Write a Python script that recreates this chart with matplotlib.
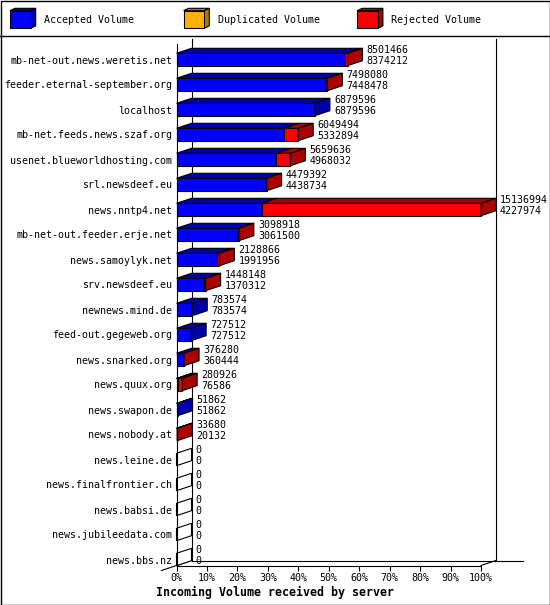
import matplotlib
matplotlib.use("Agg")
import matplotlib.pyplot as plt
from matplotlib.patches import Polygon, Rectangle
from matplotlib.lines import Line2D
import numpy as np

# ---------------- data ----------------
hosts = [
    "mb-net-out.news.weretis.net", "feeder.eternal-september.org", "localhost",
    "mb-net.feeds.news.szaf.org", "usenet.blueworldhosting.com", "srl.newsdeef.eu",
    "news.nntp4.net", "mb-net-out.feeder.erje.net", "news.samoylyk.net",
    "srv.newsdeef.eu", "newnews.mind.de", "feed-out.gegeweb.org",
    "news.snarked.org", "news.quux.org", "news.swapon.de", "news.nobody.at",
    "news.leine.de", "news.finalfrontier.ch", "news.babsi.de",
    "news.jubileedata.com", "news.bbs.nz",
]
total_volume = [8501466, 7498080, 6879596, 6049494, 5659636, 4479392, 15136994,
                3098918, 2128866, 1448148, 783574, 727512, 376280, 280926,
                51862, 33680, 0, 0, 0, 0, 0]
accepted_volume = [8374212, 7448478, 6879596, 5332894, 4968032, 4438734, 4227974,
                   3061500, 1991956, 1370312, 783574, 727512, 360444, 76586,
                   51862, 20132, 0, 0, 0, 0, 0]
duplicated_volume = [0] * 21
legend_labels = ["Accepted Volume", "Duplicated Volume", "Rejected Volume"]
xtick_values = list(range(0, 101, 10))
xlabel = "Incoming Volume received by server"

front_colors = ["#0000FF", "#FFB000", "#FF0000"]
side_colors = ["#0000AA", "#B07800", "#AA0000"]

W, H = 550, 605
MONO = "DejaVu Sans Mono"
FS = 7.2
LW = 0.8

fig = plt.figure(figsize=(W / 100, H / 100), dpi=100)
fig.patch.set_facecolor("white")

# front plane of the 3D plot
top_px, bot_px, left_px, right_px = 44.0, 565.5, 176.5, 481.0
ax = fig.add_axes([left_px / W, 1 - bot_px / H, (right_px - left_px) / W, (bot_px - top_px) / H])
ax.set_xlim(0, 100)
y_top = (top_px - 59.5) / 25.0
y_bot = (bot_px - 59.5) / 25.0
ax.set_ylim(y_bot, y_top)
ax.set_facecolor("none")
for s in ["top", "right"]:
    ax.spines[s].set_visible(False)
for s in ["left", "bottom"]:
    ax.spines[s].set_linewidth(LW)
    ax.spines[s].set_zorder(5)

# depth offset (15 px right, 5 px up) in data units
p0 = ax.transData.transform((0, 0))
p1 = ax.transData.inverted().transform(p0 + np.array([15.0, 5.0]))
DX, DY = p1[0], p1[1]
ext = ax.transData.inverted().transform(p0 + np.array([27.0, 0.0]))[0]

# back wall and floor
kw = dict(color="black", lw=LW, clip_on=False, zorder=1)
ax.add_line(Line2D([DX, DX], [y_top + DY, y_bot + DY], **kw))
ax.add_line(Line2D([100 + DX, 100 + DX], [y_top + DY, y_bot + DY], **kw))
ax.add_line(Line2D([DX, 100 + DX + ext], [y_bot + DY, y_bot + DY], **kw))
ax.add_line(Line2D([-DX, DX], [y_bot - DY, y_bot + DY], **kw))
ax.add_line(Line2D([100, 100 + DX], [y_bot, y_bot + DY], **kw))

vmax = max(total_volume)
hh = 0.248
for i in range(len(hosts)):
    acc = accepted_volume[i]
    dup = duplicated_volume[i]
    rej = total_volume[i] - acc - dup
    vals = [acc, dup, rej]
    x0 = 0.0
    last = None
    for k, v in enumerate(vals):
        if v <= 0:
            continue
        w = v / vmax * 100
        x1 = x0 + w
        ax.add_patch(Rectangle((x0, i - hh), w, 2 * hh, facecolor=front_colors[k],
                               edgecolor="black", lw=LW, clip_on=False, zorder=3))
        ax.add_patch(Polygon([(x0, i - hh), (x1, i - hh), (x1 + DX, i - hh + DY), (x0 + DX, i - hh + DY)],
                             closed=True, facecolor=side_colors[k], edgecolor="black",
                             lw=LW, clip_on=False, zorder=3))
        x0 = x1
        last = k
    fc = side_colors[last] if last is not None else "white"
    ax.add_patch(Polygon([(x0, i - hh), (x0 + DX, i - hh + DY), (x0 + DX, i + hh + DY), (x0, i + hh)],
                         closed=True, facecolor=fc, edgecolor="black", lw=LW,
                         clip_on=False, zorder=3))
    ax.annotate(str(total_volume[i]), xy=(x0, i), xytext=(19 * 0.72, 6.6),
                textcoords="offset points", ha="left", va="center",
                fontsize=FS, family=MONO, annotation_clip=False)
    ax.annotate(str(accepted_volume[i]), xy=(x0, i), xytext=(19 * 0.72, -1.1),
                textcoords="offset points", ha="left", va="center",
                fontsize=FS, family=MONO, annotation_clip=False)

ax.set_xticks(xtick_values)
ax.set_xticklabels([f"{t}%" for t in xtick_values], family=MONO, fontsize=FS)
ax.set_yticks(range(len(hosts)))
ax.set_yticklabels(hosts, family=MONO, fontsize=FS)
ax.tick_params(axis="x", length=3.6, width=LW, pad=1.5)
ax.tick_params(axis="y", length=0, pad=3.2)

fig.text(0.5, 1 - 592 / H, xlabel, ha="center", va="center", fontsize=8.4,
         family=MONO, weight="bold")

# legend strip
lax = fig.add_axes([0, 1 - 35.5 / H, 1, 35.5 / H])
lax.set_xlim(0, W)
lax.set_ylim(35.5, 0)
lax.axis("off")
for k, lab in enumerate(legend_labels):
    bx = 10 + k * 173.6
    x0, x1, y0, y1 = bx, bx + 20.7, 10.7, 28.3
    ddx, ddy = 5.0, -2.4
    lax.add_patch(Polygon([(x0, y0), (x1, y0), (x1 + ddx, y0 + ddy), (x0 + ddx, y0 + ddy)],
                          facecolor=side_colors[k], edgecolor="black", lw=LW))
    lax.add_patch(Polygon([(x1, y0), (x1 + ddx, y0 + ddy), (x1 + ddx, y1 + ddy), (x1, y1)],
                          facecolor=side_colors[k], edgecolor="black", lw=LW))
    lax.add_patch(Rectangle((x0, y0), x1 - x0, y1 - y0, facecolor=front_colors[k],
                            edgecolor="black", lw=LW))
    lax.text(bx + 34, 20, lab, ha="left", va="center", fontsize=FS, family=MONO)

# frame and separator
fig.patches.append(Rectangle((0.5 / W, 0.5 / H), 1 - 1 / W, 1 - 1 / H, transform=fig.transFigure,
                             fill=False, edgecolor="black", lw=1.0))
fig.lines.append(Line2D([0, 1], [1 - 35.5 / H, 1 - 35.5 / H], transform=fig.transFigure,
                        color="black", lw=1.0))

fig.savefig("out.png", dpi=100)
